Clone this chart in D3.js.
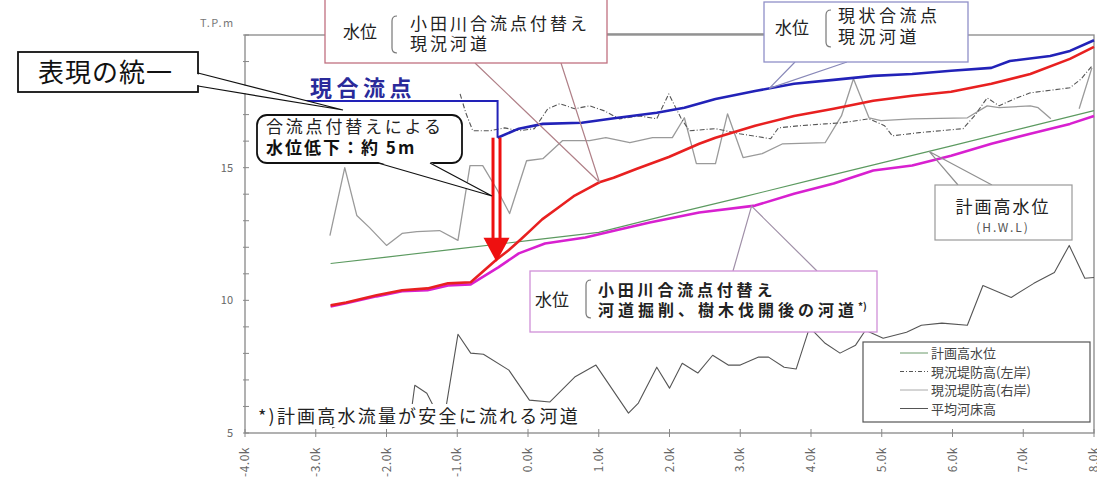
<!DOCTYPE html>
<html>
<head>
<meta charset="utf-8">
<script src="https://cdn.jsdelivr.net/npm/d3@7"></script>
<style>
body{margin:0;background:#fff;}
text{font-family:"Noto Sans CJK JP","Noto Sans",sans-serif;}
</style>
</head>
<body>
<div id="chart"></div>
<script>
// tick values / labels
var kmTicks = [-4,-3,-2,-1,0,1,2,3,4,5,6,7,8];
var kmLabels = ["-4.0k","-3.0k","-2.0k","-1.0k","0.0k","1.0k","2.0k","3.0k","4.0k","5.0k","6.0k","7.0k","8.0k"];
var elevTicks = [5,10,15];
var elevMinor = [5,6,7,8,9,10,11,12,13,14,15,16,17,18,19,20];

// series: [distance km, elevation T.P.m]
var hwl = [[-2.79,11.39],[-2.0,11.63],[-1.0,11.94],[0.0,12.25],[1.0,12.56],[2.0,13.23],[3.0,13.87],[4.0,14.53],[5.0,15.18],[6.0,15.83],[7.0,16.49],[8.0,17.15]];

var wlCurrent = [[-0.43,16.13],[-0.13,16.47],[0.21,16.65],[0.76,16.69],[1.27,16.88],[1.82,17.07],[2.21,17.26],[2.65,17.59],[3.21,17.89],[3.76,18.16],[4.32,18.31],[4.88,18.46],[5.43,18.53],[5.98,18.65],[6.55,18.76],[6.81,19.02],[7.38,19.21],[7.66,19.40],[8.0,19.8]];

var wlRelocated = [[-2.79,9.81],[-2.57,9.92],[-2.14,10.19],[-1.78,10.38],[-1.42,10.45],[-1.13,10.64],[-0.81,10.68],[-0.46,11.50],[-0.27,11.90],[-0.10,12.30],[0.02,12.60],[0.20,13.05],[0.43,13.50],[0.66,13.95],[0.87,14.25],[1.01,14.45],[1.21,14.62],[1.53,14.95],[1.99,15.40],[2.42,15.90],[2.65,16.13],[3.21,16.58],[3.76,16.95],[4.32,17.22],[4.88,17.52],[5.43,17.71],[5.98,17.86],[6.55,18.16],[7.10,18.53],[7.66,19.10],[8.0,19.55]];

var wlExcavated = [[-2.79,9.77],[-2.57,9.89],[-2.14,10.15],[-1.78,10.34],[-1.42,10.38],[-1.13,10.56],[-0.81,10.60],[-0.42,11.24],[-0.13,11.77],[0.24,12.14],[0.81,12.37],[1.23,12.63],[1.72,12.93],[2.42,13.31],[3.21,13.57],[3.76,14.02],[4.32,14.40],[4.88,14.89],[5.43,15.08],[5.98,15.45],[6.55,15.90],[7.10,16.28],[7.66,16.65],[8.0,16.95]];

var leveeLeft = [[-0.96,17.78],[-0.88,17.07],[-0.78,16.39],[-0.54,16.39],[-0.33,16.50],[-0.12,16.39],[0.09,16.47],[0.28,17.22],[0.45,17.41],[0.66,17.22],[0.87,17.33],[1.08,17.14],[1.29,16.84],[1.58,16.95],[1.82,16.84],[1.99,17.78],[2.16,16.88],[2.28,16.39],[2.65,16.47],[2.99,16.28],[3.43,16.09],[3.54,16.50],[3.84,16.58],[4.20,16.65],[4.43,16.69],[4.82,16.84],[5.04,16.58],[5.15,16.20],[5.53,16.32],[6.15,16.47],[6.31,16.95],[6.49,17.63],[6.66,17.33],[6.87,17.59],[7.10,17.82],[7.66,18.01],[7.82,18.35],[7.97,18.83]];

var leveeRight = [[-2.80,12.44],[-2.59,15.00],[-2.42,13.20],[-2.24,12.74],[-2.00,12.07],[-1.78,12.52],[-1.57,12.59],[-1.25,12.63],[-0.99,12.26],[-0.82,15.08],[-0.64,15.08],[-0.43,14.14],[-0.26,13.27],[-0.02,15.26],[0.21,15.34],[0.49,16.02],[0.87,16.02],[1.10,16.13],[1.44,15.94],[1.76,16.13],[2.04,16.13],[2.21,16.88],[2.38,15.15],[2.65,15.15],[2.82,17.03],[3.04,15.38],[3.31,15.53],[3.60,15.90],[4.20,15.94],[4.43,16.95],[4.60,18.35],[4.82,16.88],[4.99,16.77],[5.43,16.84],[6.21,16.88],[6.49,17.33],[6.66,17.26],[7.10,17.33],[7.21,17.26],[7.39,16.84],[7.60,null],[7.79,17.22],[7.97,18.76]];

var bedAvg = [[-2.77,5.19],[-2.52,5.49],[-2.24,5.68],[-1.95,5.56],[-1.67,5.41],[-1.60,6.80],[-1.43,6.50],[-1.20,5.30],[-0.99,8.72],[-0.81,8.01],[-0.63,7.97],[-0.27,7.37],[0.02,6.24],[0.31,6.17],[0.66,7.11],[0.96,7.56],[1.42,5.75],[1.56,6.13],[1.82,7.48],[2.00,6.69],[2.18,7.63],[2.40,7.26],[2.61,7.93],[2.83,7.56],[3.00,7.56],[3.26,7.86],[3.40,7.86],[3.62,7.48],[3.79,7.41],[3.98,8.98],[4.20,8.38],[4.41,8.01],[4.63,8.31],[4.77,8.87],[5.02,8.57],[5.35,8.80],[5.56,9.06],[5.85,9.14],[6.21,9.06],[6.43,10.56],[6.83,10.11],[7.15,10.64],[7.44,11.05],[7.65,12.07],[7.87,10.83],[8.0,10.86]];

var legendNames = ["計画高水位","現況堤防高(左岸)","現況堤防高(右岸)","平均河床高"];

var width = 1097, height = 486;
var plot = {left:245, right:1094, top:35, bottom:433};

var svg = d3.select("#chart").append("svg")
    .attr("width", width).attr("height", height);

var x = d3.scaleLinear().domain([-4,8]).range([plot.left, plot.right]);
var y = d3.scaleLinear().domain([5,20]).range([plot.bottom, plot.top]);

// plot frame
svg.append("rect")
    .attr("x", plot.left).attr("y", plot.top)
    .attr("width", plot.right-plot.left).attr("height", plot.bottom-plot.top)
    .attr("fill","none").attr("stroke","#888").attr("stroke-width",1.3);

// y ticks (inside)
svg.append("g").selectAll("line").data(elevMinor).enter().append("line")
    .attr("x1", plot.left-2).attr("x2", plot.left+4)
    .attr("y1", d => y(d)).attr("y2", d => y(d))
    .attr("stroke","#888");
svg.append("g").selectAll("text").data(elevTicks).enter().append("text")
    .attr("x", plot.left-12).attr("y", d => y(d)+4)
    .attr("text-anchor","end").attr("font-size",11).attr("fill","#666")
    .text(d => d);
svg.append("text").attr("x",200).attr("y",27).attr("font-size",11)
    .attr("fill","#777").attr("letter-spacing",1.5).text("T.P.m");

// x ticks
svg.append("g").selectAll("line").data(kmTicks).enter().append("line")
    .attr("x1", d => x(d)).attr("x2", d => x(d))
    .attr("y1", plot.bottom-4).attr("y2", plot.bottom+4)
    .attr("stroke","#888");
svg.append("g").selectAll("text").data(kmTicks).enter().append("text")
    .attr("transform", d => "translate(" + (x(d)+4) + "," + (plot.bottom+14) + ") rotate(-90)")
    .attr("text-anchor","end").attr("font-size",12).attr("fill","#666")
    .attr("letter-spacing",0.5)
    .text((d,i) => kmLabels[i]);

var line = d3.line()
    .defined(d => d[1] != null)
    .x(d => x(d[0])).y(d => y(d[1]));

function drawSeries(data, color, w, dash){
  svg.append("path").datum(data)
    .attr("fill","none").attr("stroke",color).attr("stroke-width",w)
    .attr("stroke-linejoin","round")
    .attr("stroke-dasharray", dash || null)
    .attr("d", line);
}

drawSeries(bedAvg, "#555", 1.1);
drawSeries(leveeRight, "#9a9a9a", 1.3);
drawSeries(leveeLeft, "#555", 1.1, "5,2,1,2");
drawSeries(hwl, "#5c9a60", 1.1);
drawSeries(wlExcavated, "#d820d0", 2.6);
drawSeries(wlRelocated, "#e82020", 2.6);
drawSeries(wlCurrent, "#2222b8", 2.6);

// footnote (white backed)
svg.append("rect").attr("x",256).attr("y",404).attr("width",326).attr("height",23).attr("fill","#fff");
svg.append("text").attr("x",258).attr("y",423).attr("font-size",18)
    .attr("letter-spacing",2.2).attr("fill","#222")
    .text("*)計画高水流量が安全に流れる河道");

// legend
var lg = svg.append("g");
lg.append("rect").attr("x",863).attr("y",342).attr("width",227).attr("height",80)
    .attr("fill","#fff").attr("stroke","#555").attr("stroke-width",1.2);
var legendStyle = [["#6a9a6a",null],["#555","4,2,1,2"],["#aaa",null],["#555",null]];
legendNames.forEach(function(n,i){
  var yy = 353 + i*18.5;
  lg.append("line").attr("x1",900).attr("x2",928).attr("y1",yy).attr("y2",yy)
    .attr("stroke",legendStyle[i][0]).attr("stroke-dasharray",legendStyle[i][1]);
  lg.append("text").attr("x",931).attr("y",yy+5).attr("font-size",13)
    .attr("fill","#444").text(n);
});

// helpers
function bracket(bx, y1, y2){
  svg.append("path")
    .attr("d","M"+(bx+5)+","+y1+" Q"+bx+","+y1+" "+bx+","+(y1+5)+" L"+bx+","+(y2-5)+" Q"+bx+","+y2+" "+(bx+5)+","+y2)
    .attr("fill","none").attr("stroke","#777").attr("stroke-width",1.2);
}
function pointer(p1, tip, p2, color){
  svg.append("path").attr("d","M"+p1+" L"+tip+" L"+p2)
    .attr("fill","none").attr("stroke",color).attr("stroke-width",1.2);
}

// current confluence marker
var b0 = wlCurrent[0];
svg.append("path")
    .attr("d","M305,101 L"+x(b0[0])+",101 L"+x(b0[0])+","+y(b0[1]))
    .attr("fill","none").attr("stroke","#2222b8").attr("stroke-width",2);
svg.append("text").attr("x",310).attr("y",96).attr("font-size",22).attr("font-weight","bold")
    .attr("letter-spacing",4.5).attr("fill","#2a2a9a").text("現合流点");

// red drop arrow
var ax = x(-0.445), aTop = y(b0[1]), aTip = y(11.45);
svg.append("line").attr("x1",ax-3.5).attr("x2",ax-3.5).attr("y1",aTop).attr("y2",aTip-22)
    .attr("stroke","#ee1010").attr("stroke-width",3);
svg.append("line").attr("x1",ax+3.5).attr("x2",ax+3.5).attr("y1",aTop).attr("y2",aTip-22)
    .attr("stroke","#ee1010").attr("stroke-width",3);
svg.append("path").attr("d","M"+(ax-13)+","+(aTip-24)+" L"+(ax+13)+","+(aTip-24)+" L"+ax+","+aTip+" Z")
    .attr("fill","#ee1010");

// pink box (relocated, current channel)
pointer("475,63", x(1.01)+","+y(14.45), "561,63", "#b08088");
svg.append("line").attr("x1",607).attr("x2",764).attr("y1",34).attr("y2",34).attr("stroke","#888").attr("stroke-width",1.3);
svg.append("rect").attr("x",325).attr("y",-4).attr("width",282).attr("height",67)
    .attr("fill","#fff").attr("stroke","#c07080").attr("stroke-width",1.3);
svg.append("text").attr("x",343).attr("y",38).attr("font-size",17).attr("fill","#222").text("水位");
bracket(392,16,53);
svg.append("text").attr("x",410).attr("y",30).attr("font-size",17).attr("letter-spacing",3).attr("fill","#222").text("小田川合流点付替え");
svg.append("text").attr("x",410).attr("y",50).attr("font-size",17).attr("letter-spacing",3).attr("fill","#222").text("現況河道");

// blue box (current confluence)
pointer("795,62", x(3.41)+","+y(17.99), "847,62", "#8888b8");
svg.append("rect").attr("x",764).attr("y",2).attr("width",204).attr("height",60)
    .attr("fill","#fff").attr("stroke","#9090c8").attr("stroke-width",1.3);
svg.append("text").attr("x",775).attr("y",34).attr("font-size",17).attr("fill","#222").text("水位");
bracket(826,10,47);
svg.append("text").attr("x",838).attr("y",22).attr("font-size",17).attr("letter-spacing",3.5).attr("fill","#222").text("現状合流点");
svg.append("text").attr("x",838).attr("y",43).attr("font-size",17).attr("letter-spacing",3.5).attr("fill","#222").text("現況河道");

// HWL box
pointer("958,185", x(5.67)+","+y(15.61), "992,185", "#909090");
svg.append("rect").attr("x",935).attr("y",185).attr("width",137).attr("height",55)
    .attr("fill","#fff").attr("stroke","#999").attr("stroke-width",1.2);
svg.append("text").attr("x",1003).attr("y",213).attr("text-anchor","middle").attr("font-size",17)
    .attr("letter-spacing",2).attr("fill","#222").text("計画高水位");
svg.append("text").attr("x",1003).attr("y",232).attr("text-anchor","middle").attr("font-size",12)
    .attr("letter-spacing",2).attr("fill","#555").text("(H.W.L)");

// magenta box
pointer("733,271", x(3.16)+","+y(13.55), "817,271", "#a090a8");
svg.append("rect").attr("x",530).attr("y",271).attr("width",347).attr("height",61)
    .attr("fill","#fff").attr("stroke","#d090d8").attr("stroke-width",1.3);
svg.append("text").attr("x",535).attr("y",306).attr("font-size",17).attr("fill","#222").text("水位");
bracket(586,280,318);
svg.append("text").attr("x",598).attr("y",296).attr("font-size",16).attr("font-weight","bold")
    .attr("letter-spacing",3.8).attr("fill","#222").text("小田川合流点付替え");
var t2 = svg.append("text").attr("x",598).attr("y",316).attr("font-size",16).attr("font-weight","bold")
    .attr("letter-spacing",4).attr("fill","#222");
t2.append("tspan").text("河道掘削、樹木伐開後の河道");
t2.append("tspan").attr("font-size",10).attr("dy",-6).attr("letter-spacing",0).text("*)");

// rounded callout with wedge
svg.append("rect").attr("x",257).attr("y",115).attr("width",205).attr("height",48).attr("rx",10)
    .attr("fill","#fff").attr("stroke","#111").attr("stroke-width",1.8);
svg.append("path").attr("d","M378,162 L492,196 L430,162 Z").attr("fill","#fff");
pointer("378,163","492,196","430,163","#111");
svg.append("text").attr("x",266).attr("y",133).attr("font-size",17).attr("letter-spacing",2.8)
    .attr("fill","#222").text("合流点付替えによる");
svg.append("text").attr("x",266).attr("y",154).attr("font-size",17).attr("letter-spacing",2)
    .attr("font-weight","bold").attr("fill","#111").text("水位低下：約 5m");

// "表現の統一" box
svg.append("rect").attr("x",18).attr("y",52).attr("width",180).attr("height",40)
    .attr("fill","#fff").attr("stroke","#111").attr("stroke-width",1.8);
svg.append("path").attr("d","M197,74 L343,110 L197,85 Z").attr("fill","#fff");
pointer("198,73","343,110","198,86","#111");
svg.append("text").attr("x",38).attr("y",82).attr("font-size",26).attr("letter-spacing",1)
    .attr("fill","#111").text("表現の統一");
</script>
</body>
</html>
